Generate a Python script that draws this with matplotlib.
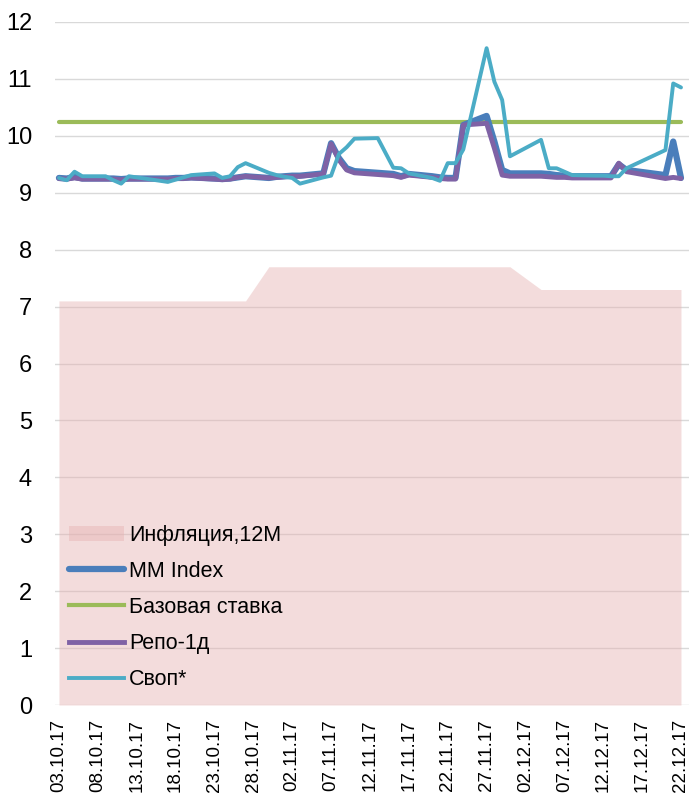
import numpy as np
import matplotlib
matplotlib.use("Agg")
import matplotlib.pyplot as plt
import matplotlib.dates as mdates
from matplotlib.patches import Patch
from matplotlib.lines import Line2D
import pandas as pd

plt.rcParams['font.family'] = ['Liberation Sans', 'DejaVu Sans']

# business days (holidays 01.12, 18-19.12 skipped)
dates = ['03.10.17', '04.10.17', '05.10.17', '06.10.17', '09.10.17', '10.10.17', '11.10.17',
         '12.10.17', '13.10.17', '16.10.17', '17.10.17', '18.10.17', '19.10.17', '20.10.17',
         '23.10.17', '24.10.17', '25.10.17', '26.10.17', '27.10.17', '30.10.17', '31.10.17',
         '01.11.17', '02.11.17', '03.11.17', '06.11.17', '07.11.17', '08.11.17', '09.11.17',
         '10.11.17', '13.11.17', '14.11.17', '15.11.17', '16.11.17', '17.11.17', '20.11.17',
         '21.11.17', '22.11.17', '23.11.17', '24.11.17', '27.11.17', '28.11.17', '29.11.17',
         '30.11.17', '04.12.17', '05.12.17', '06.12.17', '07.12.17', '08.12.17', '11.12.17',
         '12.12.17', '13.12.17', '14.12.17', '15.12.17', '20.12.17', '21.12.17', '22.12.17']

inflation = [7.1] * 19 + [7.7] * 24 + [7.3] * 13

mm_index = [9.26, 9.25, 9.28, 9.25, 9.25, 9.25, 9.24, 9.25, 9.25, 9.25, 9.25, 9.26, 9.26, 9.27,
            9.25, 9.24, 9.25, 9.27, 9.29, 9.26, 9.28,
            9.29, 9.30, 9.30, 9.34, 9.87, 9.61, 9.43, 9.38, 9.35, 9.34, 9.33, 9.29, 9.33, 9.29,
            9.27, 9.26, 9.26, 10.19, 10.35, 9.90, 9.40, 9.34,
            9.34, 9.33, 9.31, 9.30, 9.29, 9.29, 9.29, 9.29, 9.50, 9.40, 9.31, 9.90, 9.26]

base_rate = [10.25] * 56

repo = [9.25, 9.24, 9.26, 9.24, 9.24, 9.24, 9.23, 9.24, 9.24, 9.24, 9.24, 9.25, 9.25, 9.26,
        9.24, 9.23, 9.24, 9.27, 9.29, 9.26, 9.27,
        9.28, 9.29, 9.29, 9.33, 9.86, 9.58, 9.40, 9.35, 9.32, 9.31, 9.30, 9.27, 9.31, 9.27,
        9.25, 9.24, 9.24, 10.19, 10.22, 9.78, 9.31, 9.29,
        9.29, 9.28, 9.27, 9.27, 9.26, 9.26, 9.26, 9.26, 9.52, 9.37, 9.25, 9.27, 9.25]

swap = [9.26, 9.22, 9.37, 9.29, 9.29, 9.22, 9.16, 9.29, 9.27, 9.21, 9.19, 9.23, 9.27, 9.31,
        9.34, 9.26, 9.29, 9.45, 9.52, 9.35, 9.31,
        9.28, 9.26, 9.16, 9.27, 9.30, 9.68, 9.80, 9.95, 9.96, 9.70, 9.44, 9.43, 9.34, 9.26,
        9.21, 9.52, 9.52, 9.76, 11.54, 10.95, 10.63, 9.64,
        9.93, 9.43, 9.43, 9.37, 9.31, 9.30, 9.30, 9.29, 9.29, 9.43, 9.75, 10.92, 10.85]

x = pd.to_datetime(dates, format='%d.%m.%y')

fig = plt.figure(figsize=(6.89, 7.96), dpi=100)
ax = fig.add_axes([55 / 689, 91 / 796, 634 / 689, 683 / 796])

# grid
for v in range(0, 13):
    ax.axhline(v, color='#D9D9D9', lw=1.0, zorder=0)

infl_col = '#E6B3B3'
ax.fill_between(x, 0, inflation, color=infl_col, alpha=0.45, lw=0, zorder=1)
ax.plot(x, base_rate, color='#9BBB59', lw=3, solid_capstyle='round', zorder=2)
ax.plot(x, mm_index, color='#4A7EBB', lw=4.5, solid_capstyle='round', solid_joinstyle='round', zorder=3)
ax.plot(x, repo, color='#7F62A5', lw=3.5, solid_capstyle='round', solid_joinstyle='round', zorder=4)
ax.plot(x, swap, color='#4BACC6', lw=2.8, solid_capstyle='round', solid_joinstyle='round', zorder=5)

start = pd.Timestamp('2017-10-03')
ax.set_xlim(start - pd.Timedelta(hours=12.2), start + pd.Timedelta(days=81.03))
ax.set_ylim(0, 12)

ticks = pd.date_range('2017-10-03', '2017-12-22', freq='5D')
ax.set_xticks(ticks)
ax.xaxis.set_major_formatter(mdates.DateFormatter('%d.%m.%y'))
ax.set_yticks(range(0, 13))
ax.tick_params(axis='x', length=0, labelsize=13.5, rotation=90, pad=10)
ax.tick_params(axis='y', length=0, labelsize=17, pad=16.5)
for s in ax.spines.values():
    s.set_visible(False)

handles = [Patch(facecolor=infl_col, alpha=0.45, edgecolor='none'),
           Line2D([], [], color='#4A7EBB', lw=4.5, solid_capstyle='round'),
           Line2D([], [], color='#9BBB59', lw=3),
           Line2D([], [], color='#7F62A5', lw=3.5),
           Line2D([], [], color='#4BACC6', lw=2.8)]
labels = ['Инфляция,12M', 'MM Index', 'Базовая ставка', 'Репо-1д', 'Своп*']
ax.legend(handles, labels, loc='upper left', bbox_to_anchor=(0.016, 0.27), frameon=False,
          fontsize=15.5, handlelength=2.55, handletextpad=0.23, labelspacing=0.7,
          borderaxespad=0, borderpad=0.2)

fig.savefig('out.png', dpi=100)
